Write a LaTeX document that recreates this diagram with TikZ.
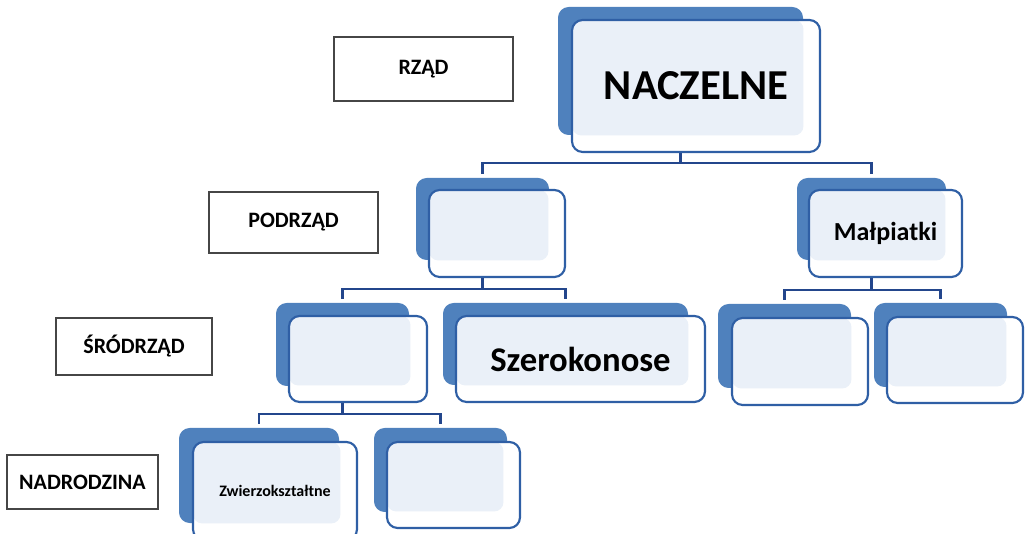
\documentclass[tikz,border=0pt]{standalone}
\usepackage{fontspec}
\setmainfont{Carlito}
\usetikzlibrary{fit}

\definecolor{backblue}{RGB}{79,129,189}
\definecolor{frontblue}{RGB}{47,95,165}
\definecolor{paleblue}{RGB}{234,240,248}
\definecolor{linkblue}{RGB}{35,70,140}
\definecolor{rankgray}{RGB}{70,70,70}

\tikzset{
  rank/.style={draw=rankgray, line width=1.2pt, inner sep=0pt},
  ranktext/.style={font=\bfseries\fontsize{16.5}{20}\selectfont},
  back/.style={fill=backblue, rounded corners=8pt, inner sep=0pt},
  front/.style={draw=frontblue, line width=1.6pt, fill=white, rounded corners=8pt, inner sep=0pt,
    path picture={\fill[paleblue, rounded corners=7pt] (path picture bounding box.north west)
      rectangle ([xshift=-12.4pt, yshift=12.4pt]path picture bounding box.south east);}},
  link/.style={draw=linkblue, line width=1.8pt, shorten >=3pt},
}

\begin{document}
\begin{tikzpicture}[x=0.75pt, y=-0.75pt]
        \useasboundingbox (0,0) rectangle (1025,534);
        \node[rank, fit={(334,37) (513,101)}, label={[ranktext]center:RZĄD}] (rzad) {};
        \node[rank, fit={(209,192) (378,253)}, label={[ranktext]center:PODRZĄD}] (podrzad) {};
        \node[rank, fit={(56,318) (212,375)}, label={[ranktext]center:ŚRÓDRZĄD}] (srodrzad) {};
        \node[rank, fit={(7,455) (158,509)}, label={[ranktext]center:NADRODZINA}] (nadrodzina) {};

        \node[back, fit={(558,7) (803,135)}] (naczB) {};
        \node[back, fit={(416,178) (549,260)}] (p1B) {};
        \node[back, fit={(797,178) (946,260)}] (malpB) {};
        \node[back, fit={(276,303) (409,386)}] (s1B) {};
        \node[back, fit={(443,303) (688,385)}] (szerB) {};
        \node[back, fit={(718,304) (851,388)}] (m1B) {};
        \node[back, fit={(874,303) (1007,387)}] (m2B) {};
        \node[back, fit={(179,428) (339,523)}] (zwierzB) {};
        \node[back, fit={(374,428) (507,512)}] (n2B) {};

        \coordinate (bar1) at (0,163);
        \coordinate (bar2) at (0,289);
        \coordinate (bar3) at (0,290);
        \coordinate (bar4) at (0,414);
        \foreach \c in {p1B,malpB}
          \draw[link] (naczB.south) -- (naczB.south |- bar1) -| (\c.north);
        \foreach \c in {s1B,szerB}
          \draw[link] (p1B.south) -- (p1B.south |- bar2) -| (\c.north);
        \foreach \c in {m1B,m2B}
          \draw[link] (malpB.south) -- (malpB.south |- bar3) -| (\c.north);
        \foreach \c in {zwierzB,n2B}
          \draw[link] (s1B.south) -- (s1B.south |- bar4) -| (\c.north);

        \node[front, fit={(572,20) (820,152)},
          label={[font=\bfseries\fontsize{32}{38}\selectfont]center:NACZELNE}] (nacz) {};
        \node[front, fit={(429,190) (565,277)}] (p1) {};
        \node[front, fit={(809,190) (962,277)},
          label={[font=\bfseries\fontsize{19.5}{23}\selectfont]center:Małpiatki}] (malp) {};
        \node[front, fit={(289,316) (427,402)}] (s1) {};
        \node[front, fit={(456,316) (705,402)},
          label={[font=\bfseries\fontsize{26}{31}\selectfont]center:Szerokonose}] (szer) {};
        \node[front, fit={(732,318) (868,405)}] (m1) {};
        \node[front, fit={(887,317) (1023,403)}] (m2) {};
        \node[front, fit={(193,442) (357,540)},
          label={[font=\bfseries\fontsize{12}{14}\selectfont]center:Zwierzokształtne}] (zwierz) {};
        \node[front, fit={(387,442) (520,528)}] (n2) {};
    \end{tikzpicture}
\end{document}
